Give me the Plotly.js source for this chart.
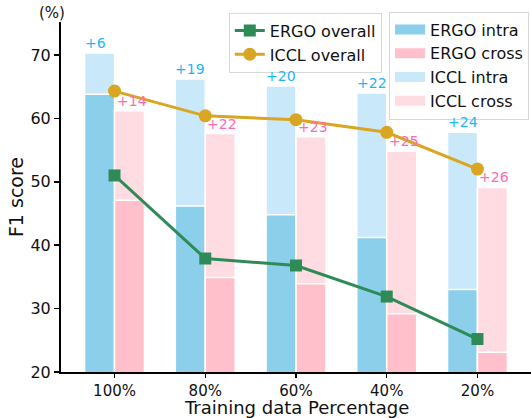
<!DOCTYPE html>
<html>
<head>
<meta charset="utf-8">
<script src="https://cdn.plot.ly/plotly-3.0.1.min.js"></script>
<style>html,body{margin:0;padding:0;background:#fff;}#chart{width:531px;height:418px;}</style>
</head>
<body>
<div id="chart"></div>
<script>
const categories = ["100%", "80%", "60%", "40%", "20%"];
const ergoIntra = [63.8, 46.2, 44.8, 41.2, 33.0];
const ergoCross = [47.1, 34.9, 33.9, 29.2, 23.1];
const icclIntra = [70.3, 66.2, 65.1, 64.0, 57.8];
const icclCross = [61.2, 57.6, 57.1, 54.8, 49.1];
const ergoOverall = [51.0, 37.9, 36.8, 31.9, 25.2];
const icclOverall = [64.3, 60.4, 59.8, 57.8, 52.0];
const intraGainLabels = ["+6", "+19", "+20", "+22", "+24"];
const crossGainLabels = ["+14", "+22", "+23", "+25", "+26"];

const FONT = "DejaVu Sans, sans-serif";
const W = 0.33;
const edge = {color: "#ffffff", width: 1.5};
const C = {ergoIntra: "#8ccfea", icclIntra: "#c9e8fa", ergoCross: "#ffc0cb", icclCross: "#fedce2"};

const traces = [
  {type: "bar", name: "ICCL intra", x: categories, y: icclIntra, offset: -W, width: W,
   marker: {color: C.icclIntra, line: edge}, showlegend: false},
  {type: "bar", name: "ERGO intra", x: categories, y: ergoIntra, offset: -W, width: W,
   marker: {color: C.ergoIntra, line: edge}, showlegend: false},
  {type: "bar", name: "ICCL cross", x: categories, y: icclCross, offset: 0, width: W,
   marker: {color: C.icclCross, line: edge}, showlegend: false},
  {type: "bar", name: "ERGO cross", x: categories, y: ergoCross, offset: 0, width: W,
   marker: {color: C.ergoCross, line: edge}, showlegend: false},
  {type: "scatter", mode: "lines+markers", name: "ERGO overall", x: categories, y: ergoOverall,
   line: {color: "#2e8b57", width: 3}, marker: {symbol: "square", size: 12, color: "#2e8b57"},
   legend: "legend", legendrank: 1},
  {type: "scatter", mode: "lines+markers", name: "ICCL overall", x: categories, y: icclOverall,
   line: {color: "#daa520", width: 3}, marker: {symbol: "circle", size: 13, color: "#daa520"},
   legend: "legend", legendrank: 2}
];
// legend entries for the bar series, drawn as wide rectangles like the reference
[["ERGO intra", C.ergoIntra], ["ERGO cross", C.ergoCross], ["ICCL intra", C.icclIntra], ["ICCL cross", C.icclCross]]
  .forEach(([name, color], k) => {
    traces.push({type: "scatter", mode: "lines", name: name, x: [null], y: [null],
      line: {color: color, width: 10}, legend: "legend2", legendrank: k + 1, hoverinfo: "skip"});
  });

const annotations = [];
categories.forEach((c, i) => {
  annotations.push({x: i - W, y: icclIntra[i], xref: "x", yref: "y", text: intraGainLabels[i],
    showarrow: false, xanchor: "left", yanchor: "bottom", xshift: -2, yshift: 0,
    font: {family: FONT, size: 14, color: "#1cb6f6"}});
  annotations.push({x: i, y: icclCross[i], xref: "x", yref: "y", text: crossGainLabels[i],
    showarrow: false, xanchor: "left", yanchor: "bottom", xshift: 0, yshift: 0,
    font: {family: FONT, size: 14, color: "#ff69b4"}});
});
annotations.push({x: -0.02, y: 1.0, xref: "paper", yref: "paper", text: "(%)", showarrow: false,
  xanchor: "center", yanchor: "middle", yshift: 9, font: {family: FONT, size: 15, color: "#111"}});
// x-axis title
annotations.push({x: 0.5, y: 0, xref: "paper", yref: "paper", text: "Training data Percentage",
  showarrow: false, xanchor: "center", yanchor: "top", yshift: -24, borderpad: 0,
  font: {family: FONT, size: 18, color: "#111"}});

const legendCommon = {
  bgcolor: "rgba(255,255,255,0.85)", bordercolor: "#d8d8d8", borderwidth: 1,
  font: {family: FONT, size: 16, color: "#111"}, yanchor: "top", xanchor: "left",
  tracegroupgap: 0, itemwidth: 30
};

const layout = {
  width: 531, height: 418,
  margin: {l: 61, r: 0, t: 22, b: 46, pad: 0},
  paper_bgcolor: "#ffffff", plot_bgcolor: "#ffffff",
  barmode: "overlay",
  font: {family: FONT, size: 16, color: "#111"},
  showlegend: true,
  legend: Object.assign({}, legendCommon, {x: 0.357, y: 1.027}),
  legend2: Object.assign({}, legendCommon, {x: 0.698, y: 1.03}),
  xaxis: {
    type: "category", range: [-0.59, 4.59],
    showline: true, linecolor: "#000", linewidth: 2, mirror: false,
    ticks: "outside", ticklen: 4, tickwidth: 1.5, tickcolor: "#000",
    showgrid: false, zeroline: false, automargin: false,
    tickfont: {family: FONT, size: 15, color: "#111"}
  },
  yaxis: {
    range: [20, 75.2], tickvals: [20, 30, 40, 50, 60, 70],
    showline: true, linecolor: "#000", linewidth: 2,
    ticks: "outside", ticklen: 5, tickwidth: 1.5, tickcolor: "#000",
    showgrid: false, zeroline: false, automargin: false,
    tickfont: {family: FONT, size: 16, color: "#111"},
    title: {text: "F1 score", font: {family: FONT, size: 19, color: "#111"}, standoff: 2}
  },
  annotations: annotations
};

Plotly.newPlot("chart", traces, layout, {displayModeBar: false, staticPlot: true});
</script>
</body>
</html>
